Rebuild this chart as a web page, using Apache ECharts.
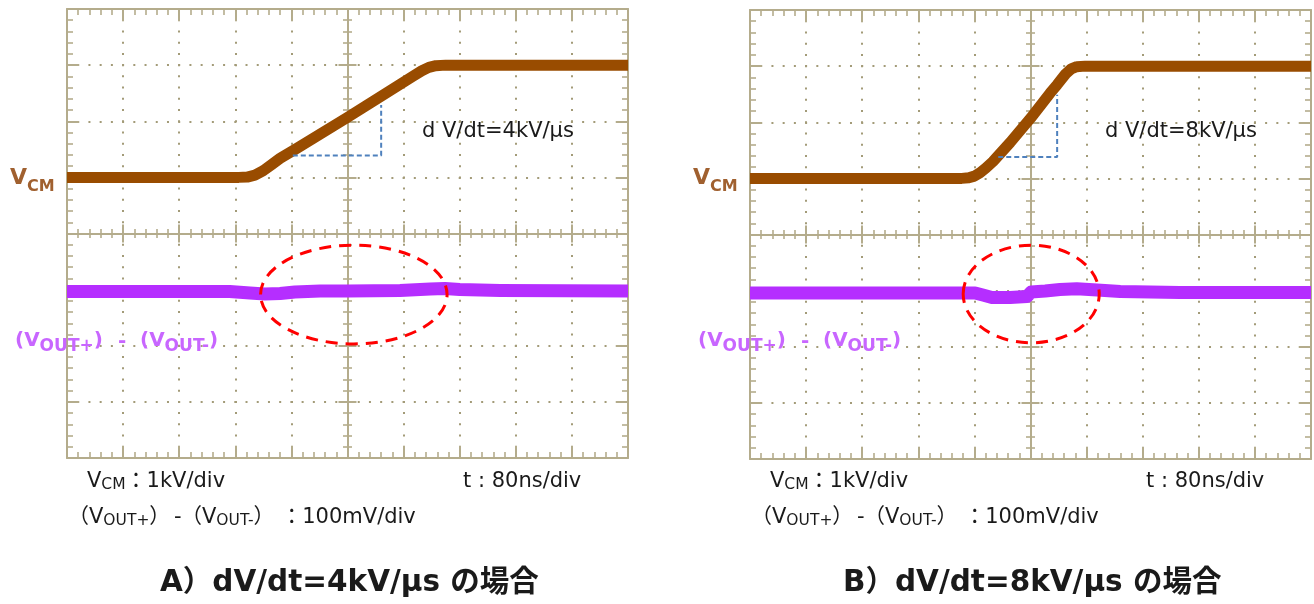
<!DOCTYPE html>
<html><head><meta charset="utf-8">
<script src="https://cdn.jsdelivr.net/npm/echarts@6/dist/echarts.min.js"></script>
<style>html,body{margin:0;padding:0;background:#fff}#c{width:1314px;height:604px}</style>
</head><body><div id="c"></div>
<script>
// ================= DATA =================
// time axis: 80 ns/div, 10 divisions
const T_MIN = -400, T_MAX = 400, T_DIV = 80;
const DIV_MIN = -4, DIV_MAX = 4;
const timeTickValues = [-320, -240, -160, -80, 0, 80, 160, 240, 320];
const divTickValues = [-3, -2, -1, 0, 1, 2, 3];

// channel scaling
const CH1_KV_PER_DIV = 1;      // VCM : 1kV/div
const CH1_POS_DIV = 1;
const CH2_MV_PER_DIV = 100;    // (VOUT+)-(VOUT-) : 100mV/div
const CH2_POS_DIV = -1;

// A) dV/dt = 4kV/us   [t (ns), VCM (kV)]
const vcmA = [[-400,0],[-155,0],[-143,0.005],[-132,0.04],[-120,0.12],[-108,0.23],[-96,0.34],[-72,0.52],[0,1.07],[46,1.43],[93,1.80],[106,1.90],[116,1.96],[126,1.99],[140,2.0],[400,2.0]];
// A) [t (ns), Vout diff (mV)]
const voutA = [[-400,-3.3],[-168,-3.3],[-139,-6.0],[-118,-7.8],[-96,-6.9],[-75,-4.2],[-39,-2.4],[1,-2.4],[75,-1.5],[118,1.2],[139,2.0],[160,0.3],[218,-1.5],[400,-2.4]];
// B) dV/dt = 8kV/us
const vcmB = [[-400,0],[-98,0],[-88,0.01],[-80,0.04],[-72,0.10],[-64,0.18],[-53.5,0.30],[-29,0.64],[0,1.07],[28,1.52],[38,1.67],[50,1.86],[58,1.95],[66,1.99],[78,2.0],[400,2.0]];
const voutB = [[-400,-4.2],[-79,-4.2],[-68,-7.8],[-55,-12.2],[-29,-12.2],[-5,-10.4],[-3,-10.4],[1,-2.4],[21,-0.6],[42,2.0],[66,3.3],[95,1.1],[128,-1.5],[213,-3.3],[400,-3.3]];

// slope markers on VCM [t (ns), kV]
const slopeA = [[-78,0.39],[48,0.39],[48,1.29]];
const slopeB = [[-46,0.38],[38,0.38],[38,1.49]];
// highlight rings on channel 2: [center t (ns), center (mV), half width (ns), half height (mV)]
const ringA = [9, -8.7, 133, 88];
const ringB = [1, -6, 97, 87];

const panelTitles = ['A）dV/dt=4kV/µs の場合', 'B）dV/dt=8kV/µs の場合'];
const slewLabels = ['d V/dt=4kV/µs', 'd V/dt=8kV/µs'];

// ================= STYLE / LAYOUT =================
const FONT = "'DejaVu Sans', 'Noto Sans CJK JP', sans-serif";
const C_AX = '#b4ac8c', C_DOT = '#a39b78';
const C_VCM = '#994c00', C_VOUT = '#b52eff';
const grids = [
  {left: 67, top: 9, width: 561, height: 449},
  {left: 750, top: 10, width: 561, height: 449}
];
const DX = [0, 683];

function axis(dim, gi, role) {
  const g = grids[gi];
  const isX = dim === 'x';
  const half = isX ? g.height / 2 : g.width / 2;
  const a = {
    type: 'value', gridIndex: gi,
    min: isX ? T_MIN : DIV_MIN, max: isX ? T_MAX : DIV_MAX, interval: isX ? T_DIV : 1,
    position: isX ? 'bottom' : 'left', offset: 0,
    axisLabel: {show: false},
    axisLine: {show: false, onZero: false, lineStyle: {color: C_AX, width: 2}},
    axisTick: {show: false, inside: true, length: 12, lineStyle: {color: C_AX, width: 2}},
    minorTick: {show: false, splitNumber: 5, length: 6, lineStyle: {color: C_AX, width: 1.6}},
    splitLine: {show: false}, minorSplitLine: {show: false},
    silent: true
  };
  if (role === 'b1' || role === 'b2') {
    if (role === 'b2') a.position = isX ? 'top' : 'right';
    a.axisLine.show = true; a.axisTick.show = true; a.minorTick.show = true;
    if (role === 'b1') {
      const period = isX ? g.height / 40 : g.width / 50;
      a.splitLine = {show: true, lineStyle: {color: C_DOT, width: 2, type: [2, period - 2], dashOffset: 1}};
    }
  } else if (role === 'cMinor') {
    a.offset = -half + 4.5; a.minorTick.show = true; a.minorTick.length = 9;
  } else if (role === 'cMajor') {
    a.offset = -half + 9; a.axisTick.show = true; a.axisTick.length = 18;
    a.axisTick.customValues = isX ? timeTickValues : divTickValues;
  } else if (role === 'cLine') {
    a.offset = -half; a.axisLine.show = true;
  }
  return a;
}
const roles = ['b1', 'b2', 'cMinor', 'cMajor', 'cLine'];
const xAxes = [], yAxes = [];
grids.forEach((g, gi) => roles.forEach(r => { xAxes.push(axis('x', gi, r)); yAxes.push(axis('y', gi, r)); }));

const ch1 = arr => arr.map(p => [p[0], p[1] / CH1_KV_PER_DIV + CH1_POS_DIV]);
const ch2 = arr => arr.map(p => [p[0], p[1] / CH2_MV_PER_DIV + CH2_POS_DIV]);

const series = [];
[[vcmA, voutA, slopeA, ringA], [vcmB, voutB, slopeB, ringB]].forEach((set, gi) => {
  const xi = gi * 5, yi = gi * 5;
  series.push({type: 'line', xAxisIndex: xi, yAxisIndex: yi, data: ch2(set[1]), showSymbol: false, smooth: false,
    lineStyle: {color: C_VOUT, width: 13, join: 'round'}, z: 3, silent: true});
  series.push({type: 'line', xAxisIndex: xi, yAxisIndex: yi, data: ch1(set[0]), showSymbol: false, smooth: false,
    lineStyle: {color: C_VCM, width: 11, join: 'round'}, z: 4, silent: true});
  series.push({type: 'line', xAxisIndex: xi, yAxisIndex: yi, data: ch1(set[2]), showSymbol: false,
    lineStyle: {color: '#4f81bd', width: 2, type: [5, 3]}, z: 5, silent: true});
  const r = set[3];
  series.push({type: 'custom', xAxisIndex: xi, yAxisIndex: yi, clip: false, silent: true, z: 6,
    data: [[r[0], r[1] / CH2_MV_PER_DIV + CH2_POS_DIV, r[2], r[3] / CH2_MV_PER_DIV]],
    renderItem: (p, api) => {
      const c = api.coord([api.value(0), api.value(1)]);
      const s = api.size([api.value(2), api.value(3)]);
      return {type: 'ellipse', shape: {cx: c[0], cy: c[1], rx: s[0], ry: s[1]},
        style: {fill: 'none', stroke: '#ff0000', lineWidth: 3, lineDash: [12, 8]}};
    }});
});

// ---------- text ----------
const mctx = document.createElement('canvas').getContext('2d');
function tw(t, s, b) { mctx.font = (b ? 'bold ' : '') + s + 'px ' + FONT; return mctx.measureText(t).width; }
const graphics = [];
function run(x, y, pieces, color) {
  pieces.forEach(p => {
    graphics.push({type: 'text', x: x, y: y + (p.dy || 0), silent: true, z: 10,
      style: {text: p.t, fontFamily: FONT, fontSize: p.s, fontWeight: p.b ? 'bold' : 'normal',
        fill: color, align: 'left', verticalAlign: 'middle'}});
    x += tw(p.t, p.s, p.b);
  });
  return x;
}
DX.forEach((dx, i) => {
  run(10 + dx, 178.5, [{t: 'V', s: 22, b: 1}, {t: 'CM', s: 16, b: 1, dy: 8}], '#a0602f');
  run(15 + dx, 341, [{t: '(', s: 20, b: 1}, {t: 'V', s: 20, b: 1}, {t: 'OUT+', s: 17, b: 1, dy: 6}, {t: ')', s: 20, b: 1}], '#c866ff');
  run(118 + dx, 342, [{t: '-', s: 20, b: 1}], '#c866ff');
  run(140 + dx, 341, [{t: '(', s: 20, b: 1}, {t: 'V', s: 20, b: 1}, {t: 'OUT-', s: 17, b: 1, dy: 6}, {t: ')', s: 20, b: 1}], '#c866ff');
  run(422 + dx, 132, [{t: slewLabels[i], s: 21}], '#1a1a1a');
  run(87 + dx, 482, [{t: 'V', s: 21}, {t: 'CM', s: 15.5, dy: 3}, {t: '：1kV/div', s: 21}], '#1a1a1a');
  run(463 + dx, 482, [{t: 't : 80ns/div', s: 21}], '#1a1a1a');
  run(68 + dx, 518, [{t: '（', s: 21}, {t: 'V', s: 21}, {t: 'OUT+', s: 15.5, dy: 3}, {t: '）', s: 21}], '#1a1a1a');
  run(174 + dx, 518, [{t: '-', s: 21}], '#1a1a1a');
  run(181 + dx, 518, [{t: '（', s: 21}, {t: 'V', s: 21}, {t: 'OUT-', s: 15.5, dy: 3}, {t: '） ：100mV/div', s: 21}], '#1a1a1a');
  run(160 + dx, 583, [{t: panelTitles[i], s: 29.5, b: 1}], '#1a1a1a');
});

const chart = echarts.init(document.getElementById('c'), null, {renderer: 'canvas'});
chart.setOption({
  animation: false,
  backgroundColor: '#ffffff',
  grid: grids.map(g => Object.assign({show: false, containLabel: false}, g)),
  xAxis: xAxes,
  yAxis: yAxes,
  series: series,
  graphic: graphics
});
</script></body></html>
